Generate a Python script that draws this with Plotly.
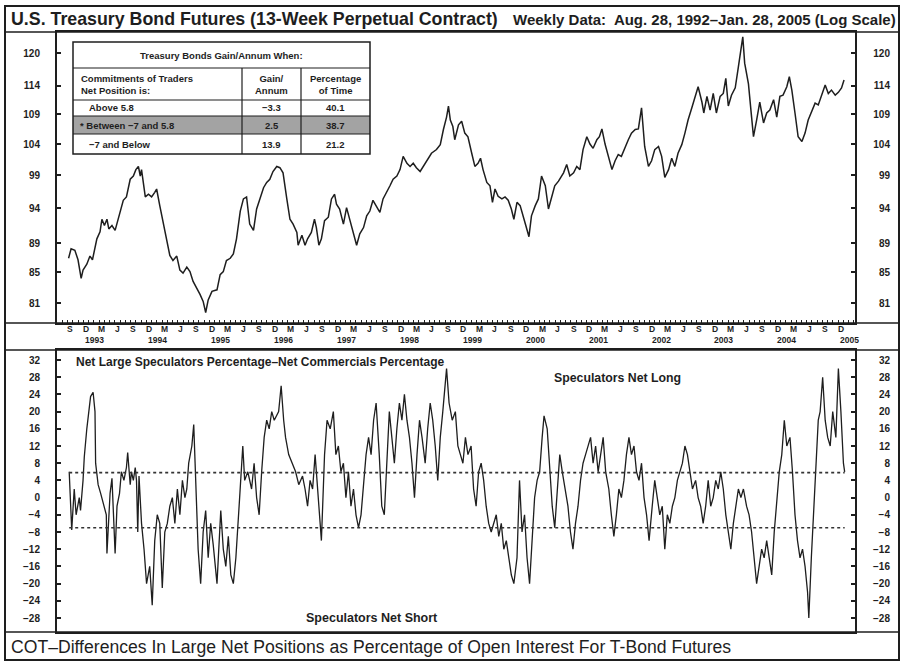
import math
import plotly.graph_objects as go

W, H = 903, 663
def px(x):
    return x / W
def py(y):
    return 1 - y / H

FONT = "Liberation Sans, Arial, sans-serif"
INK = "#1e1e1e"

# ---------------- data ----------------
top_years = [1992.68, 1992.72, 1992.78, 1992.83, 1992.88, 1992.91, 1992.97, 1993.02, 1993.06, 1993.13,
             1993.18, 1993.21, 1993.25, 1993.29, 1993.32, 1993.37, 1993.42, 1993.50, 1993.55, 1993.60,
             1993.66, 1993.71, 1993.75, 1993.79, 1993.82, 1993.84, 1993.90, 1993.95, 1994.00, 1994.05,
             1994.08, 1994.13, 1994.21, 1994.29, 1994.34, 1994.40, 1994.45, 1994.50, 1994.56, 1994.61,
             1994.66, 1994.72, 1994.77, 1994.82, 1994.86, 1994.90, 1994.96, 1995.04, 1995.09, 1995.14,
             1995.19, 1995.25, 1995.30, 1995.35, 1995.41, 1995.46, 1995.51, 1995.56, 1995.62, 1995.67,
             1995.72, 1995.78, 1995.83, 1995.88, 1995.93, 1995.99, 1996.04, 1996.09, 1996.15, 1996.20,
             1996.25, 1996.31, 1996.33, 1996.39, 1996.44, 1996.48, 1996.54, 1996.59, 1996.62, 1996.66,
             1996.70, 1996.75, 1996.81, 1996.86, 1996.91, 1996.94, 1996.99, 1997.05, 1997.10, 1997.15,
             1997.21, 1997.26, 1997.31, 1997.37, 1997.42, 1997.47, 1997.52, 1997.58, 1997.63, 1997.68,
             1997.74, 1997.79, 1997.84, 1997.90, 1997.95, 1998.00, 1998.06, 1998.11, 1998.16, 1998.21,
             1998.27, 1998.35, 1998.40, 1998.45, 1998.53, 1998.59, 1998.64, 1998.69, 1998.72, 1998.75,
             1998.79, 1998.82, 1998.88, 1998.93, 1998.98, 1999.03, 1999.09, 1999.14, 1999.19, 1999.23,
             1999.27, 1999.33, 1999.38, 1999.42, 1999.46, 1999.51, 1999.57, 1999.62, 1999.67, 1999.72,
             1999.76, 1999.81, 1999.86, 1999.90, 1999.95, 2000.00, 2000.04, 2000.10, 2000.15, 2000.20,
             2000.26, 2000.31, 2000.36, 2000.41, 2000.47, 2000.55, 2000.60, 2000.65, 2000.71, 2000.76,
             2000.81, 2000.86, 2000.92, 2000.97, 2001.02, 2001.08, 2001.12, 2001.16, 2001.21, 2001.26,
             2001.32, 2001.37, 2001.42, 2001.47, 2001.53, 2001.58, 2001.63, 2001.69, 2001.74, 2001.79,
             2001.84, 2001.90, 2001.95, 2002.00, 2002.06, 2002.11, 2002.16, 2002.22, 2002.27, 2002.32,
             2002.37, 2002.43, 2002.48, 2002.53, 2002.59, 2002.64, 2002.69, 2002.75, 2002.78, 2002.83,
             2002.88, 2002.93, 2002.98, 2003.04, 2003.09, 2003.13, 2003.17, 2003.22, 2003.28, 2003.33,
             2003.37, 2003.40, 2003.43, 2003.49, 2003.54, 2003.57, 2003.62, 2003.67, 2003.73, 2003.78,
             2003.83, 2003.89, 2003.94, 2003.99, 2004.04, 2004.10, 2004.14, 2004.18, 2004.23, 2004.28,
             2004.34, 2004.39, 2004.44, 2004.49, 2004.55, 2004.60, 2004.65, 2004.71, 2004.76, 2004.81,
             2004.87, 2004.92, 2004.97, 2005.01]

top_price = [86.9, 88.2, 88.0, 86.7, 84.2, 85.3, 86.1, 87.2, 86.7, 89.6,
             90.6, 92.4, 91.5, 92.4, 91.0, 91.5, 90.8, 93.4, 95.2, 95.7,
             98.4, 98.9, 99.9, 100.4, 98.9, 99.9, 95.7, 96.1, 95.7, 96.4,
             96.9, 94.4, 90.5, 87.3, 86.6, 87.2, 85.3, 84.9, 85.7, 85.1,
             83.8, 82.9, 82.1, 81.2, 79.8, 81.4, 82.5, 82.7, 84.7, 85.1,
             86.6, 86.9, 87.5, 89.6, 93.6, 95.4, 95.7, 91.7, 90.8, 93.9,
             95.2, 97.1, 97.9, 98.4, 99.6, 100.4, 100.2, 99.4, 95.4, 92.4,
             91.7, 90.5, 88.7, 90.1, 88.7, 89.6, 90.5, 92.4, 91.2, 88.7,
             89.6, 92.2, 92.7, 95.4, 96.1, 94.6, 93.9, 91.7, 94.1, 92.4,
             90.5, 88.7, 90.3, 91.2, 92.9, 93.6, 95.2, 94.1, 93.4, 95.4,
             96.4, 97.4, 98.4, 98.9, 99.9, 102.0, 100.9, 100.4, 100.9, 100.2,
             99.6, 100.9, 101.7, 102.5, 103.1, 103.9, 106.4, 108.5, 110.4, 108.0,
             106.9, 104.7, 107.2, 107.8, 105.8, 105.2, 102.5, 100.4, 100.9, 101.7,
             99.9, 97.9, 97.4, 94.9, 96.9, 95.8, 95.4, 95.7, 95.2, 93.9,
             92.4, 94.9, 94.4, 92.9, 91.5, 89.9, 92.9, 94.4, 95.4, 98.9,
             97.4, 93.9, 95.8, 97.4, 98.1, 99.4, 100.7, 98.9, 99.4, 100.4,
             99.9, 103.1, 105.2, 104.0, 103.3, 104.7, 105.2, 106.5, 104.0, 102.0,
             99.9, 101.3, 102.3, 102.0, 103.6, 104.7, 105.8, 106.4, 106.5, 110.1,
             103.6, 100.4, 101.3, 103.1, 103.6, 102.0, 98.7, 99.9, 101.7, 100.4,
             102.5, 103.9, 105.8, 108.0, 110.1, 112.1, 113.8, 111.1, 109.2, 112.1,
             109.7, 112.6, 109.2, 112.1, 112.6, 115.3, 110.4, 112.3, 113.6, 117.4,
             120.6, 123.1, 118.1, 114.3, 108.5, 105.2, 108.0, 111.1, 107.5, 109.2,
             109.7, 111.5, 108.5, 112.1, 112.3, 113.8, 115.6, 113.2, 109.2, 105.2,
             104.4, 105.8, 108.0, 109.2, 110.9, 110.6, 112.3, 114.1, 112.6, 113.2,
             112.3, 112.8, 113.6, 115.0]

cot_years = [1992.69, 1992.73, 1992.77, 1992.80, 1992.85, 1992.87, 1992.91, 1992.93, 1992.97, 1993.00,
             1993.03, 1993.07, 1993.10, 1993.11, 1993.15, 1993.19, 1993.23, 1993.28, 1993.29, 1993.32,
             1993.34, 1993.37, 1993.40, 1993.42, 1993.45, 1993.49, 1993.52, 1993.56, 1993.60, 1993.62,
             1993.66, 1993.68, 1993.71, 1993.74, 1993.76, 1993.78, 1993.80, 1993.84, 1993.88, 1993.92,
             1993.97, 1994.01, 1994.05, 1994.09, 1994.13, 1994.17, 1994.21, 1994.25, 1994.29, 1994.33,
             1994.37, 1994.41, 1994.45, 1994.49, 1994.53, 1994.56, 1994.59, 1994.64, 1994.67, 1994.70,
             1994.74, 1994.78, 1994.82, 1994.86, 1994.90, 1994.94, 1994.98, 1995.04, 1995.10, 1995.14,
             1995.18, 1995.22, 1995.26, 1995.30, 1995.34, 1995.40, 1995.45, 1995.48, 1995.53, 1995.59,
             1995.63, 1995.67, 1995.71, 1995.75, 1995.79, 1995.83, 1995.87, 1995.91, 1995.95, 1996.02,
             1996.06, 1996.10, 1996.13, 1996.18, 1996.24, 1996.29, 1996.34, 1996.40, 1996.44, 1996.48,
             1996.52, 1996.56, 1996.60, 1996.64, 1996.68, 1996.70, 1996.75, 1996.79, 1996.84, 1996.89,
             1996.93, 1996.97, 1997.01, 1997.05, 1997.09, 1997.13, 1997.17, 1997.21, 1997.25, 1997.29,
             1997.33, 1997.37, 1997.41, 1997.45, 1997.49, 1997.53, 1997.57, 1997.62, 1997.66, 1997.70,
             1997.74, 1997.78, 1997.82, 1997.86, 1997.90, 1997.94, 1997.98, 1998.02, 1998.06, 1998.10,
             1998.14, 1998.18, 1998.22, 1998.26, 1998.30, 1998.35, 1998.39, 1998.43, 1998.47, 1998.51,
             1998.55, 1998.59, 1998.63, 1998.67, 1998.69, 1998.73, 1998.78, 1998.83, 1998.87, 1998.91,
             1998.95, 1998.99, 1999.03, 1999.08, 1999.12, 1999.16, 1999.20, 1999.24, 1999.28, 1999.32,
             1999.36, 1999.40, 1999.44, 1999.48, 1999.52, 1999.56, 1999.60, 1999.64, 1999.68, 1999.72,
             1999.76, 1999.81, 1999.85, 1999.89, 1999.93, 1999.97, 2000.01, 2000.05, 2000.09, 2000.13,
             2000.17, 2000.21, 2000.24, 2000.29, 2000.33, 2000.37, 2000.41, 2000.45, 2000.49, 2000.53,
             2000.58, 2000.62, 2000.66, 2000.70, 2000.74, 2000.78, 2000.82, 2000.86, 2000.90, 2000.94,
             2000.98, 2001.02, 2001.06, 2001.10, 2001.14, 2001.18, 2001.22, 2001.27, 2001.31, 2001.35,
             2001.39, 2001.43, 2001.47, 2001.51, 2001.55, 2001.59, 2001.63, 2001.67, 2001.71, 2001.75,
             2001.79, 2001.83, 2001.87, 2001.91, 2001.96, 2002.00, 2002.04, 2002.08, 2002.12, 2002.16,
             2002.20, 2002.24, 2002.28, 2002.32, 2002.36, 2002.40, 2002.44, 2002.48, 2002.52, 2002.56,
             2002.60, 2002.65, 2002.69, 2002.73, 2002.77, 2002.81, 2002.85, 2002.89, 2002.93, 2002.97,
             2003.01, 2003.05, 2003.09, 2003.13, 2003.17, 2003.21, 2003.25, 2003.29, 2003.33, 2003.37,
             2003.41, 2003.46, 2003.50, 2003.54, 2003.58, 2003.62, 2003.66, 2003.70, 2003.74, 2003.78,
             2003.82, 2003.86, 2003.90, 2003.94, 2003.98, 2004.02, 2004.06, 2004.10, 2004.15, 2004.19,
             2004.23, 2004.27, 2004.31, 2004.35, 2004.39, 2004.43, 2004.45, 2004.49, 2004.53, 2004.57,
             2004.60, 2004.63, 2004.67, 2004.71, 2004.75, 2004.79, 2004.83, 2004.88, 2004.92, 2004.96,
             2005.00, 2005.02]

cot_values = [6, -7.5, 2, -4, 0, -3, 4, 9.5, 16, 20,
              23.5, 24.5, 20, 8, 3, 1, -1, -4, -13, -4,
              1, 4.5, -6, -13, -2, 1, 6, 4, 7, 10.5,
              3, 6, 4, 7, 4, -8, 5, -6, -12, -20,
              -16, -25, -10, -4, -6, -21, -8, -6, -2, 0,
              -6, 2, -4, 4, 0, 2, 8, 12, 17, 6,
              -12, -20, -8, -3, -14, -6, -11, -20, -3, -12,
              -16, -9, -18, -20, -14, 0, 12, 4, 6, 2,
              8, 0, -4, 6, 14, 18, 16, 20, 18, 20,
              26, 18, 14, 10, 8, 6, 3, 5, 2, -2,
              4, 2, 10, 2, -8, -10, 10, 18, 16, 20,
              10, 12, 6, 8, 0, 6, -2, 2, -4, -7,
              -4, 4, 10, 14, 10, 18, 22, 10, -2, -4,
              10, 20, 14, 8, 16, 22, 18, 24, 18, 14,
              8, 0, 10, 18, 14, 8, 16, 22, 18, 12,
              4, 14, 20, 26, 30, 22, 18, 20, 12, 10,
              8, 14, 10, 12, 2, -2, 6, 8, 4, -2,
              -6, -8, -6, -4, -9, -6, -12, -10, -14, -18,
              -20, -14, 4, -8, -4, -14, -20, -10, 0, 4,
              6, 14, 19, 16, 6, -2, -7, 2, 10, 6,
              2, -2, -8, -12, -6, -2, 4, 8, 10, 12,
              14, 8, 12, 6, 10, 14, 6, 2, -4, -9,
              -4, 2, 0, 4, 10, 14, 10, 12, 6, 4,
              8, 0, -4, -10, -2, 4, 0, -4, -2, -12,
              -4, -6, -2, 0, 4, 6, 8, 12, 10, 6,
              2, 4, 0, -2, -6, -2, 4, -2, 0, 4,
              2, 6, 2, -4, -8, -12, -6, -2, 2, 0,
              2, -2, -4, -8, -14, -20, -16, -12, -14, -10,
              -14, -18, -8, 0, 6, 10, 18, 12, 14, 6,
              -4, -10, -14, -12, -16, -22, -28, -14, -2, 12,
              18, 20, 28, 18, 14, 12, 20, 14, 30, 20,
              8, 6]

price_ticks = [120, 114, 109, 104, 99, 94, 89, 85, 81]
cot_ticks = [32, 28, 24, 20, 16, 12, 8, 4, 0, -4, -8, -12, -16, -20, -24, -28]
upper_threshold = 5.8
lower_threshold = -7
quarter_months = [3, 6, 9, 12]
quarter_letters = ["M", "J", "S", "D"]
label_years = list(range(1993, 2006))

table_title = "Treasury Bonds Gain/Annum When:"
table_head = ["Commitments of Traders<br>Net Position is:", "Gain/<br>Annum", "Percentage<br>of Time"]
table_rows = ["Above 5.8", "* Between \u22127 and 5.8", "\u22127 and Below"]
table_gain = ["\u22123.3", "2.5", "13.9"]
table_pct = ["40.1", "38.7", "21.2"]

title_left = "U.S. Treasury Bond Futures (13-Week Perpetual Contract)"
title_right = "Weekly Data:  Aug. 28, 1992\u2013Jan. 28, 2005 (Log Scale)"
panel_label = "Net Large Speculators Percentage\u2013Net Commercials Percentage"
long_label = "Speculators Net Long"
short_label = "Speculators Net Short"
caption = "COT\u2013Differences In Large Net Positions as Percentage of Open Interest For T-Bond Futures"

# ---------------- layout geometry (pixels) ----------------
PL, PR = 57, 855           # plot left / right
T_TOP, T_BOT = 32, 323     # top panel
B_TOP, B_BOT = 350, 632    # bottom panel
X0_YEAR, YEAR_PER_PX = 1992.655, 0.0159   # x=67px -> 1992.655
XRANGE = [X0_YEAR + (PL - 67) * YEAR_PER_PX, X0_YEAR + (PR - 67) * YEAR_PER_PX]
LOGK = 636.1
TOP_RANGE = [math.log10(120 * math.exp(-(T_BOT - 53) / LOGK)), math.log10(120 * math.exp((53 - T_TOP) / LOGK))]
BOT_RANGE = [(497.6 - B_BOT) / 4.3, (497.6 - B_TOP) / 4.3]

fig = go.Figure()

fig.add_trace(go.Scatter(x=top_years, y=top_price, mode="lines", xaxis="x", yaxis="y",
                         line=dict(color=INK, width=1.5), hoverinfo="skip", showlegend=False))
fig.add_trace(go.Scatter(x=cot_years, y=cot_values, mode="lines", xaxis="x2", yaxis="y2",
                         line=dict(color=INK, width=1.3), hoverinfo="skip", showlegend=False))
# invisible helpers so the label-only axes are drawn
for ya, yy in [("y3", top_price), ("y5", top_price), ("y4", cot_values), ("y6", cot_values)]:
    xa = "x" if ya in ("y3", "y5") else "x2"
    fig.add_trace(go.Scatter(x=[cot_years[0]], y=[yy[0]], mode="markers", xaxis=xa, yaxis=ya,
                             marker=dict(opacity=0, size=1), hoverinfo="skip", showlegend=False))

tickfont = dict(family=FONT, size=10, color=INK, weight="bold")
month_ticks = [yr + m / 12 for yr in range(1992, 2006) for m in range(12)
               if XRANGE[0] < yr + m / 12 < XRANGE[1]]

common_x = dict(range=XRANGE, showgrid=False, zeroline=False, showline=True, linecolor=INK,
                linewidth=1.5, mirror=True, showticklabels=False)
fig.update_layout(
    width=W, height=H, margin=dict(l=0, r=0, t=0, b=0),
    paper_bgcolor="white", plot_bgcolor="white", showlegend=False,
    xaxis=dict(domain=[px(PL), px(PR)], anchor="y", ticks="inside", tickvals=month_ticks,
               ticklen=3, tickcolor=INK, **common_x),
    xaxis2=dict(domain=[px(PL), px(PR)], anchor="y2", ticks="", **common_x),
    yaxis=dict(domain=[py(T_BOT), py(T_TOP)], anchor="x", type="log", range=TOP_RANGE,
               showgrid=False, zeroline=False, showline=True, linecolor=INK, linewidth=1.5,
               mirror="ticks", ticks="inside", ticklen=4, tickcolor=INK, tickwidth=1.5,
               tickvals=price_ticks, showticklabels=False),
    yaxis3=dict(overlaying="y", anchor="free", position=px(40), side="left", type="log",
                range=TOP_RANGE, showgrid=False, zeroline=False, showline=False, ticks="",
                tickvals=price_ticks, ticktext=[str(v) for v in price_ticks], tickfont=tickfont),
    yaxis5=dict(overlaying="y", anchor="free", position=px(890), side="left", type="log",
                range=TOP_RANGE, showgrid=False, zeroline=False, showline=False, ticks="",
                tickvals=price_ticks, ticktext=[str(v) for v in price_ticks], tickfont=tickfont),
    yaxis2=dict(domain=[py(B_BOT), py(B_TOP)], anchor="x2", range=BOT_RANGE,
                showgrid=False, zeroline=False, showline=True, linecolor=INK, linewidth=1.5,
                mirror="ticks", ticks="inside", ticklen=4, tickcolor=INK, tickwidth=1.5,
                tickvals=cot_ticks, showticklabels=False),
    yaxis4=dict(overlaying="y2", anchor="free", position=px(40), side="left",
                range=BOT_RANGE, showgrid=False, zeroline=False, showline=False, ticks="",
                tickvals=cot_ticks, ticktext=[str(v).replace("-", "\u2212") for v in cot_ticks],
                tickfont=tickfont),
    yaxis6=dict(overlaying="y2", anchor="free", position=px(890), side="left",
                range=BOT_RANGE, showgrid=False, zeroline=False, showline=False, ticks="",
                tickvals=cot_ticks, ticktext=[str(v).replace("-", "\u2212") for v in cot_ticks],
                tickfont=tickfont),
)

shapes = []
line_style = dict(color=INK, width=1.5)
# outer frame and full-width separators
shapes.append(dict(type="rect", xref="paper", yref="paper", x0=px(5), x1=px(899), y0=py(660), y1=py(6),
                   line=dict(color=INK, width=2)))
for yy in [T_TOP, T_BOT, B_TOP, B_BOT]:
    shapes.append(dict(type="line", xref="paper", yref="paper", x0=px(5), x1=px(899), y0=py(yy), y1=py(yy),
                       line=line_style))
# threshold dashed lines
for thr in [upper_threshold, lower_threshold]:
    shapes.append(dict(type="line", xref="x2", yref="y2", x0=cot_years[0], x1=cot_years[-1], y0=thr, y1=thr,
                       line=dict(color="#333", width=1.6, dash="dot")))

# inset table
TL, TR, TT, TB = 73, 370, 42, 154
C1, C2 = 242, 301
R = [68, 100, 116, 134]
shapes.append(dict(type="rect", xref="paper", yref="paper", x0=px(TL), x1=px(TR), y0=py(R[3]), y1=py(R[2]),
                   fillcolor="#a3a3a3", line=dict(width=0), layer="above"))
shapes.append(dict(type="rect", xref="paper", yref="paper", x0=px(TL), x1=px(TR), y0=py(TB), y1=py(TT),
                   line=dict(color=INK, width=1.5)))
for rr in R:
    shapes.append(dict(type="line", xref="paper", yref="paper", x0=px(TL), x1=px(TR), y0=py(rr), y1=py(rr),
                       line=dict(color=INK, width=1.2)))
for cc in [C1, C2]:
    shapes.append(dict(type="line", xref="paper", yref="paper", x0=px(cc), x1=px(cc), y0=py(TB), y1=py(R[0]),
                       line=dict(color=INK, width=1.2)))

ann = []
def text(x, y, s, size, xanchor="left", bold=True, xref="paper", color=INK, family=FONT):
    ann.append(dict(x=x if xref != "paper" else px(x), y=py(y), xref=xref, yref="paper", text=s,
                    showarrow=False, xanchor=xanchor, yanchor="middle",
                    font=dict(family=family, size=size, color=color, weight="bold" if bold else "normal")))

text(9, 19, title_left, 17.8)
text(898, 19, title_right, 15, xanchor="right")

# x-axis band labels
for yr in range(1992, 2005):
    for m, letter in zip(quarter_months, quarter_letters):
        pos = yr + (m - 0.5) / 12
        if XRANGE[0] + 0.1 < pos < XRANGE[1] - 0.1:
            text(pos, 329, letter, 8.5, xanchor="center", xref="x")
for yr in label_years:
    text(yr + 0.1, 340, str(yr), 8.5, xanchor="center", xref="x")

# panel annotations
text(74, 362, panel_label, 12)
text(552, 378, long_label, 12.3)
text(304, 618, short_label, 12.5)
text(9, 647, caption, 17.6, bold=False)

# table texts
TFS = 9.5
text((TL + TR) / 2, 55, table_title, TFS, xanchor="center")
ann.append(dict(x=px(79), y=py(84), xref="paper", yref="paper", text=table_head[0], showarrow=False,
                xanchor="left", yanchor="middle", align="left",
                font=dict(family=FONT, size=TFS, color=INK, weight="bold")))
for cx, s in [((C1 + C2) / 2, table_head[1]), ((C2 + TR) / 2, table_head[2])]:
    ann.append(dict(x=px(cx), y=py(84), xref="paper", yref="paper", text=s, showarrow=False,
                    xanchor="center", yanchor="middle", align="center",
                    font=dict(family=FONT, size=TFS, color=INK, weight="bold")))
row_y = [108, 125, 144]
row_x = [87, 78, 87]
for i in range(3):
    text(row_x[i], row_y[i], table_rows[i], TFS)
    text((C1 + C2) / 2, row_y[i], table_gain[i], TFS, xanchor="center")
    text((C2 + TR) / 2, row_y[i], table_pct[i], TFS, xanchor="center")

fig.update_layout(shapes=shapes, annotations=ann)
fig.write_html("out.html", config={"displayModeBar": False},
               post_script="document.body.style.margin='0';document.body.style.overflow='hidden';")
